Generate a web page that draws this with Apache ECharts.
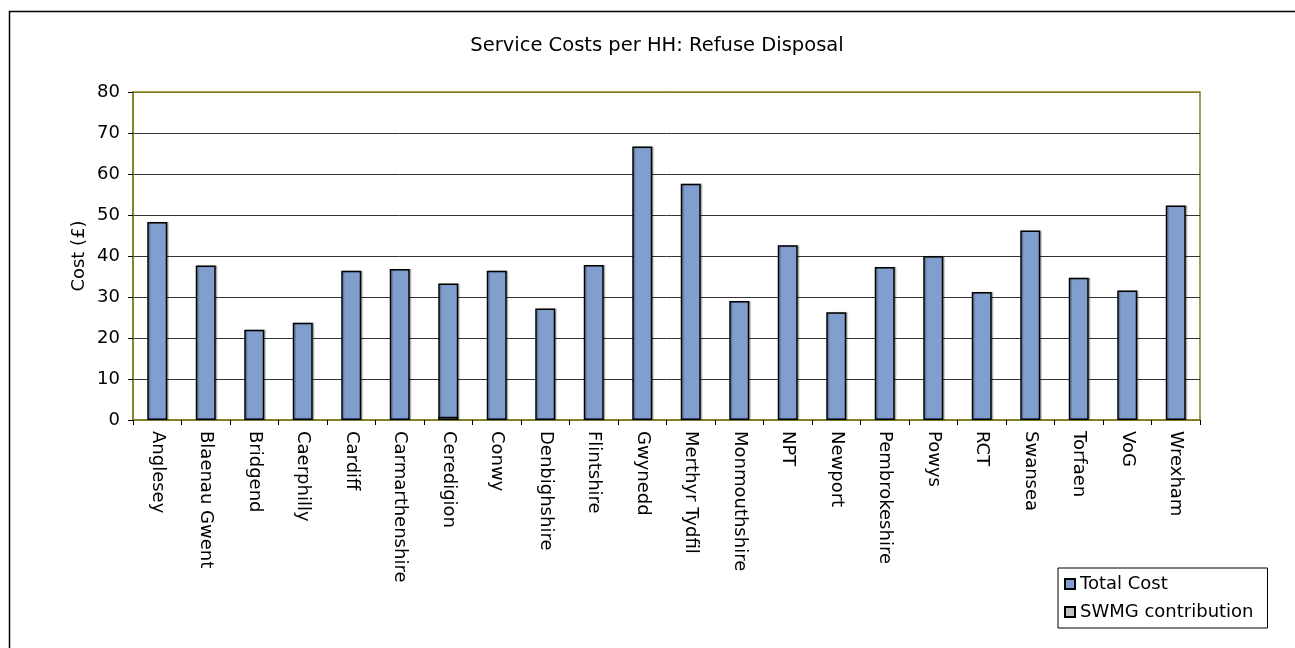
<!DOCTYPE html>
<html>
<head>
<meta charset="utf-8">
<script src="https://cdn.jsdelivr.net/npm/echarts@6/dist/echarts.min.js"></script>
<style>
  html, body { margin: 0; padding: 0; background: #ffffff; }
  #chart { width: 1295px; height: 648px; }
</style>
</head>
<body>
<div id="chart"></div>
<script>
// Local authority names along the category axis
const authorities = [
  'Anglesey', 'Blaenau Gwent', 'Bridgend', 'Caerphilly', 'Cardiff',
  'Carmarthenshire', 'Ceredigion', 'Conwy', 'Denbighshire', 'Flintshire',
  'Gwynedd', 'Merthyr Tydfil', 'Monmouthshire', 'NPT', 'Newport',
  'Pembrokeshire', 'Powys', 'RCT', 'Swansea', 'Torfaen', 'VoG', 'Wrexham'
];

// Total refuse disposal cost per household (£)
const totalCost = [
  48.3, 37.7, 22.0, 23.7, 36.4,
  36.8, 33.3, 36.4, 27.2, 37.8,
  66.7, 57.6, 29.0, 42.6, 26.3,
  37.3, 40.0, 31.2, 46.2, 34.7, 31.6, 52.3
];

// SWMG contribution per household (£)
const swmgContribution = [
  0, 0, 0, 0, 0,
  0, 0.8, 0, 0, 0,
  0, 0, 0, 0, 0,
  0, 0, 0, 0, 0, 0, 0
];

// Value axis ticks
const yTicks = { min: 0, max: 80, step: 10 };

const FONT = 'DejaVu Sans';
const OLIVE = '#7f7f20';
const GRID = '#333333';

// Gridline colours per tick (0..80); the outermost ones sit on the olive frame
const gridColors = [];
for (let v = yTicks.min; v <= yTicks.max; v += yTicks.step) {
  gridColors.push(v === yTicks.max || v === yTicks.min ? OLIVE : GRID);
}

const barShadow = {
  shadowColor: 'rgba(0,0,0,0.25)',
  shadowOffsetX: 1.5,
  shadowOffsetY: 0,
  shadowBlur: 1
};

const chart = echarts.init(document.getElementById('chart'), null, { renderer: 'canvas' });

chart.setOption({
  backgroundColor: '#ffffff',
  animation: false,
  textStyle: { fontFamily: FONT, color: '#000' },
  title: {
    text: 'Service Costs per HH: Refuse Disposal',
    left: 652,
    top: 31,
    textAlign: 'center',
    textStyle: { fontFamily: FONT, fontSize: 19.5, fontWeight: 'normal', color: '#000' }
  },
  graphic: [{
    type: 'rect',
    shape: { x: 9.5, y: 11.5, width: 1400, height: 700 },
    style: { fill: 'none', stroke: '#000', lineWidth: 1.5 },
    silent: true,
    z: 0
  }],
  legend: {
    orient: 'vertical',
    left: 1058,
    top: 568,
    data: ['Total Cost', 'SWMG contribution'],
    itemWidth: 10,
    itemHeight: 10,
    itemGap: 10,
    padding: [7, 14, 7, 6],
    borderColor: '#000',
    borderWidth: 1,
    backgroundColor: '#fff',
    icon: 'rect',
    textStyle: { fontFamily: FONT, fontSize: 18, color: '#000' }
  },
  grid: {
    left: 133,
    top: 92,
    width: 1067,
    height: 328,
    show: true,
    borderColor: OLIVE,
    borderWidth: 1.5,
    backgroundColor: 'transparent'
  },
  xAxis: {
    type: 'category',
    data: authorities,
    boundaryGap: true,
    axisLine: { lineStyle: { color: OLIVE, width: 1.5 } },
    axisTick: { show: true, alignWithLabel: false, length: 5, inside: false, lineStyle: { color: '#000' } },
    axisLabel: {
      rotate: -90,
      margin: 11,
      interval: 0,
      fontFamily: FONT,
      fontSize: 18,
      color: '#000'
    },
    splitLine: { show: false }
  },
  yAxis: {
    type: 'value',
    min: yTicks.min,
    max: yTicks.max,
    interval: yTicks.step,
    name: 'Cost (£)',
    nameLocation: 'middle',
    nameRotate: 90,
    nameGap: 45,
    nameMoveOverlap: false,
    nameTextStyle: { fontFamily: FONT, fontSize: 18, color: '#000' },
    axisLine: { show: true, lineStyle: { color: OLIVE, width: 1.5 } },
    axisTick: { show: true, length: 5, lineStyle: { color: '#000' } },
    axisLabel: { fontFamily: FONT, fontSize: 18, color: '#000', margin: 13 },
    splitLine: { show: true, lineStyle: { color: gridColors, width: 1 } }
  },
  series: [
    {
      name: 'Total Cost',
      type: 'bar',
      data: totalCost,
      barWidth: 20,
      barGap: '-100%',
      itemStyle: Object.assign({ color: '#819fce', borderColor: '#000', borderWidth: 1.5 }, barShadow),
      z: 2
    },
    {
      name: 'SWMG contribution',
      type: 'bar',
      // zero contributions are left undrawn
      data: swmgContribution.map(v => (v === 0 ? null : v)),
      barWidth: 20,
      barGap: '-100%',
      itemStyle: { color: '#c0c0c0', borderColor: '#000', borderWidth: 1.5 },
      z: 3
    }
  ]
});
</script>
</body>
</html>
